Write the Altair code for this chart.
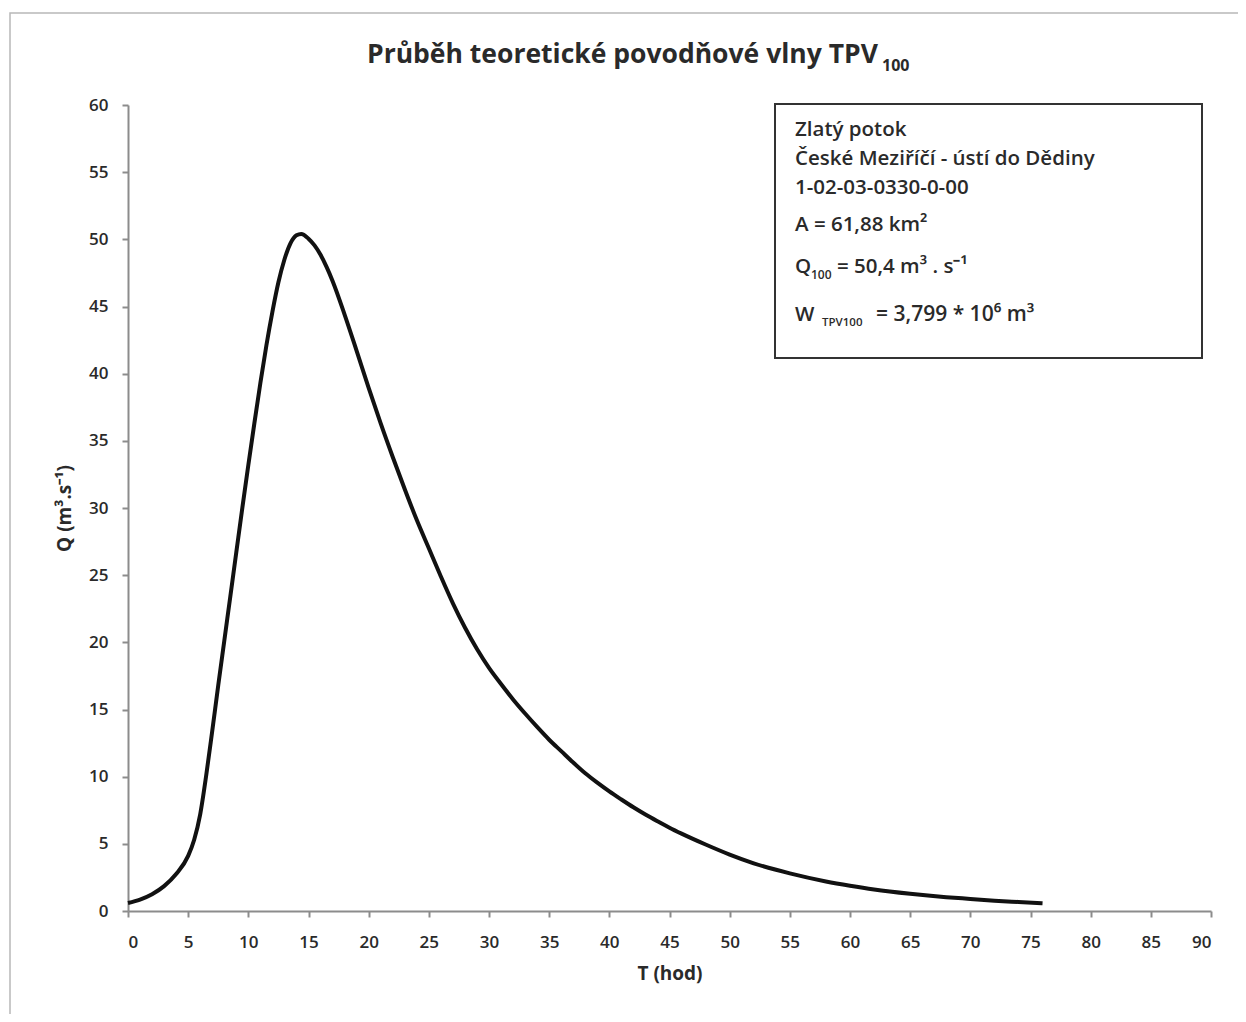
import altair as alt
import pandas as pd

# --- data ---
T_hours = [0, 1, 2, 3, 4, 5, 5.5, 6, 6.5, 7, 7.5, 8, 8.5, 9, 9.5, 10, 10.5, 11, 11.5,
           12, 12.5, 13, 13.5, 14, 14.4, 15, 15.5, 16, 16.5, 17, 18, 19, 20, 21, 22, 23,
           24, 25, 26, 27, 28, 29, 30, 31, 32, 33, 34, 35, 36, 37, 38, 39, 40, 41, 42,
           43, 44, 45, 46, 48, 50, 52, 55, 58, 60, 62, 65, 68, 70, 72, 74, 76]
Q_flow = [0.6, 0.85, 1.25, 1.85, 2.75, 4.1, 5.3, 7.2, 10.1, 13.4, 16.8, 20.1, 23.4, 26.7,
          30.0, 33.2, 36.3, 39.3, 42.1, 44.6, 46.8, 48.5, 49.7, 50.3, 50.4, 50.05, 49.55,
          48.85, 47.95, 46.9, 44.4, 41.7, 38.95, 36.3, 33.8, 31.4, 29.1, 27.0, 24.9, 22.9,
          21.1, 19.5, 18.1, 16.9, 15.75, 14.7, 13.7, 12.75, 11.9, 11.05, 10.25, 9.55,
          8.9, 8.3, 7.72, 7.18, 6.68, 6.2, 5.76, 4.95, 4.2, 3.55, 2.8, 2.2, 1.88, 1.6,
          1.28, 1.03, 0.9, 0.77, 0.67, 0.58]

x_ticks = list(range(0, 91, 5))
y_ticks = list(range(0, 61, 5))

title_main = "Průběh teoretické povodňové vlny TPV"
title_sub = "100"
info_lines = ["Zlatý potok", "České Meziříčí - ústí do Dědiny", "1-02-03-0330-0-00",
              "A = 61,88 km²"]
q_parts = ["Q", "100", "= 50,4 m³ . s⁻¹"]
w_parts = ["W", "TPV100", "=  3,799 * 10⁶ m³"]
x_title = "T (hod)"
y_title = "Q (m³.s⁻¹)"

FONT = "Open Sans"
TXT = "#2a2a2a"
W, H = 1083, 806
X0, Y0 = 128, 105  # page position of plot origin (for annotation placement)

df = pd.DataFrame({"T": T_hours, "Q": Q_flow})
one = pd.DataFrame({"a": [0]})

line = alt.Chart(df).mark_line(color="#111111", strokeWidth=4, interpolate="monotone").encode(
    x=alt.X("T:Q", scale=alt.Scale(domain=[0, 90], nice=False),
            axis=alt.Axis(values=x_ticks, title=x_title, grid=False, tickSize=6,
                          labelPadding=17, titlePadding=14, format="d")),
    y=alt.Y("Q:Q", scale=alt.Scale(domain=[0, 60], nice=False),
            axis=alt.Axis(values=y_ticks, title=y_title, grid=False, tickSize=6,
                          labelPadding=14, titlePadding=14, format="d")),
)


def txt(text, px, py, size=20.5, weight=600, align="left", baseline="middle"):
    return alt.Chart(one).mark_text(
        text=text, font=FONT, fontSize=size, fontWeight=weight, color=TXT,
        align=align, baseline=baseline,
    ).encode(x=alt.value(px - X0), y=alt.value(py - Y0))


frame = alt.Chart(one).mark_rect(fill=None, stroke="#b8b8b8", strokeWidth=1.5).encode(
    x=alt.value(10 - X0), x2=alt.value(1252 - X0), y=alt.value(13 - Y0), y2=alt.value(1030 - Y0))

box = alt.Chart(one).mark_rect(fill="white", stroke="#333333", strokeWidth=2).encode(
    x=alt.value(775 - X0), x2=alt.value(1202 - X0), y=alt.value(104 - Y0), y2=alt.value(358 - Y0))

layers = [frame, line, box,
          txt(title_main, 367, 55, size=26.5, weight="bold"),
          txt(title_sub, 882, 66, size=16, weight="bold"),
          txt(info_lines[0], 795, 130),
          txt(info_lines[1], 795, 159),
          txt(info_lines[2], 795, 188),
          txt(info_lines[3], 795, 225),
          txt(q_parts[0], 795, 267),
          txt(q_parts[1], 811, 275, size=12),
          txt(q_parts[2], 837, 267),
          txt(w_parts[0], 795, 315),
          txt(w_parts[1], 822, 323, size=11.5),
          txt(w_parts[2], 876, 315, size=21),
          ]

chart = alt.layer(*layers).properties(
    width=W, height=H,
    autosize=alt.AutoSizeParams(type="none"),
    padding={"left": 120, "top": 97, "right": 27, "bottom": 103},
).configure(background="white").configure_view(stroke=None).configure_axis(
    domainColor="#8c8c8c", domainWidth=2, tickColor="#8c8c8c", tickWidth=2,
    labelFont=FONT, labelFontSize=17, labelFontWeight=600, labelColor=TXT,
    titleFont=FONT, titleFontSize=19, titleFontWeight="bold", titleColor=TXT,
)

chart.save("out.html", embed_options={"renderer": "svg", "actions": False})
